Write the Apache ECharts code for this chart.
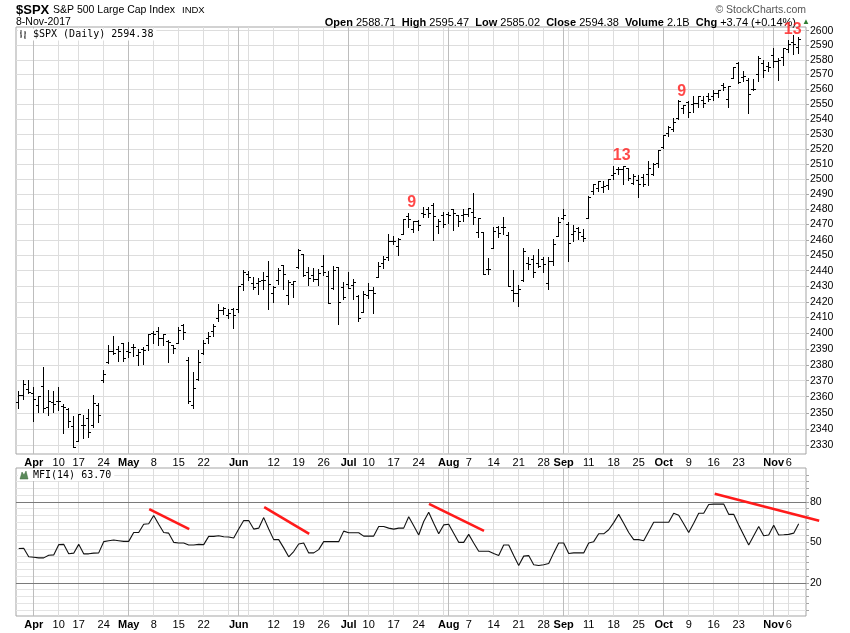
<!DOCTYPE html>
<html><head><meta charset="utf-8">
<script src="https://cdn.jsdelivr.net/npm/echarts@6/dist/echarts.min.js"></script>
<style>html,body{margin:0;padding:0;background:#fff}#c{width:850px;height:633px}</style>
</head><body><div id="c"></div>
<script>
// ---------------- DATA ----------------
const dates = [
 '3/29','3/30','3/31',
 '4/3','4/4','4/5','4/6','4/7','4/10','4/11','4/12','4/13','4/17','4/18','4/19','4/20','4/21','4/24','4/25','4/26','4/27','4/28',
 '5/1','5/2','5/3','5/4','5/5','5/8','5/9','5/10','5/11','5/12','5/15','5/16','5/17','5/18','5/19','5/22','5/23','5/24','5/25','5/26','5/30','5/31',
 '6/1','6/2','6/5','6/6','6/7','6/8','6/9','6/12','6/13','6/14','6/15','6/16','6/19','6/20','6/21','6/22','6/23','6/26','6/27','6/28','6/29','6/30',
 '7/3','7/5','7/6','7/7','7/10','7/11','7/12','7/13','7/14','7/17','7/18','7/19','7/20','7/21','7/24','7/25','7/26','7/27','7/28','7/31',
 '8/1','8/2','8/3','8/4','8/7','8/8','8/9','8/10','8/11','8/14','8/15','8/16','8/17','8/18','8/21','8/22','8/23','8/24','8/25','8/28','8/29','8/30','8/31',
 '9/1','9/5','9/6','9/7','9/8','9/11','9/12','9/13','9/14','9/15','9/18','9/19','9/20','9/21','9/22','9/25','9/26','9/27','9/28','9/29',
 '10/2','10/3','10/4','10/5','10/6','10/9','10/10','10/11','10/12','10/13','10/16','10/17','10/18','10/19','10/20','10/23','10/24','10/25','10/26','10/27','10/30','10/31',
 '11/1','11/2','11/3','11/6','11/7','11/8'
];
const open = [
 2356.54,2361.31,2364.82,
 2362.34,2354.76,2366.59,2353.79,2356.59, 2357.16,2353.92,2352.15,2341.98, 2332.62,2342.53,2346.79,2342.69,2354.74, 2370.33,2381.51,2388.98,2389.70,2393.68,
 2388.50,2391.05,2386.50,2389.79,2392.37, 2399.94,2401.58,2396.79,2394.84,2392.44, 2393.98,2405.35,2382.95,2354.69,2371.37, 2387.21,2397.04,2401.41,2409.54,2414.50, 2411.67,2415.63,
 2415.65,2431.28, 2437.83,2431.92,2432.03,2434.27,2436.39, 2425.88,2434.15,2443.75,2424.14,2431.24, 2442.55,2450.66,2439.31,2437.40,2434.65, 2443.32,2436.34,2428.70,2442.38,2429.20,
 2431.39,2430.78,2423.44,2413.52, 2424.51,2427.35,2435.75,2444.99,2449.16, 2459.50,2455.88,2463.85,2475.56,2467.40, 2472.04,2477.88,2479.97,2482.76,2469.12, 2475.94,
 2477.10,2480.38,2476.03,2476.14, 2477.14,2478.35,2465.35,2465.38,2441.04, 2454.96,2468.66,2468.63,2462.95,2427.64, 2425.50,2433.75,2444.88,2447.91,2444.72, 2447.35,2431.94,2446.06,2462.65,
 2474.42, 2470.35,2463.83,2468.06,2462.25, 2474.52,2491.94,2493.89,2494.56,2495.67, 2502.51,2506.29,2506.84,2507.16,2497.26, 2499.39,2501.04,2503.30,2503.41,2510.31,
 2521.20,2530.34,2533.48,2540.86,2547.44, 2551.39,2549.99,2550.62,2552.88,2555.66, 2555.57,2557.17,2562.87,2553.39,2567.56, 2578.08,2568.66,2566.52,2560.08,2570.26, 2577.75,2575.99,
 2583.21,2579.46,2581.93, 2587.47,2592.11,2588.71
];
const high = [
 2363.78,2370.42,2370.35,
 2365.87,2360.53,2378.36,2364.16,2363.76, 2366.37,2355.22,2352.72,2348.26, 2349.14,2348.35,2352.63,2361.37,2356.18, 2376.98,2392.48,2398.16,2392.10,2393.68,
 2394.49,2392.93,2389.82,2391.43,2399.29, 2401.36,2403.87,2399.74,2395.72,2392.44, 2404.05,2405.77,2384.87,2375.74,2389.06, 2395.46,2400.85,2405.58,2418.71,2416.68, 2415.26,2415.99,
 2430.06,2440.23, 2439.54,2436.21,2435.28,2439.27,2446.20, 2430.38,2441.49,2443.75,2433.95,2433.15, 2453.82,2450.66,2442.23,2441.62,2441.40, 2450.42,2440.15,2442.97,2442.73,2432.71,
 2439.17,2434.90,2424.28,2426.92, 2432.00,2429.30,2445.76,2449.32,2463.54, 2462.82,2460.92,2473.83,2477.62,2472.54, 2473.10,2481.24,2481.69,2484.04,2473.53, 2477.96,
 2478.51,2480.38,2476.03,2480.00, 2480.95,2490.87,2474.41,2465.38,2448.09, 2468.22,2468.90,2474.93,2465.02,2440.27, 2430.58,2454.77,2448.91,2450.39,2453.96, 2449.12,2449.19,2460.31,2475.01,
 2480.38, 2471.97,2469.64,2468.62,2467.11, 2488.95,2496.77,2498.37,2498.43,2500.23, 2508.32,2507.84,2508.85,2507.16,2503.47, 2502.54,2503.51,2511.75,2510.81,2519.44,
 2529.23,2535.13,2540.53,2552.51,2549.41, 2551.82,2555.23,2555.24,2555.33,2557.65, 2559.47,2559.71,2564.11,2562.36,2575.44, 2578.29,2572.18,2567.40,2567.07,2582.98, 2580.03,2578.29,
 2588.40,2581.11,2588.42, 2593.38,2597.02,2595.47
];
const low = [
 2352.94,2358.58,2362.60,
 2344.73,2350.72,2350.52,2348.90,2350.74, 2351.50,2337.25,2341.18,2328.95, 2332.51,2334.54,2335.05,2340.91,2344.51, 2369.19,2381.15,2386.78,2382.68,2382.36,
 2384.83,2385.82,2379.75,2380.35,2389.38, 2393.92,2392.44,2392.79,2381.74,2387.19, 2393.94,2396.05,2356.21,2352.72,2370.43, 2386.92,2393.88,2397.99,2408.01,2412.20, 2409.43,2403.59,
 2413.54,2427.71, 2434.32,2428.12,2424.75,2427.94,2415.70, 2419.97,2431.28,2428.34,2418.53,2422.88, 2441.79,2436.60,2430.74,2433.27,2431.11, 2437.03,2419.38,2428.02,2405.70,2421.65,
 2428.69,2422.05,2407.70,2413.52, 2422.27,2412.79,2435.75,2441.69,2446.69, 2457.16,2450.34,2463.85,2468.43,2465.06, 2466.32,2474.91,2474.94,2459.93,2464.66, 2468.53,
 2471.14,2466.48,2468.85,2472.08, 2475.88,2470.32,2462.08,2437.75,2437.85, 2454.96,2461.61,2463.86,2430.01,2420.69, 2417.35,2433.67,2441.42,2436.19,2442.22, 2439.03,2428.20,2443.77,2462.65,
 2473.85, 2446.55,2459.20,2460.29,2459.40, 2474.52,2490.37,2492.14,2491.35,2493.16, 2499.92,2503.19,2496.67,2499.00,2496.54, 2488.03,2495.12,2495.91,2502.93,2507.99,
 2520.40,2528.85,2531.80,2540.02,2543.79, 2541.60,2544.86,2547.95,2548.31,2552.09, 2552.64,2554.69,2559.67,2547.92,2567.56, 2564.33,2565.58,2544.00,2559.80,2565.94, 2568.25,2572.15,
 2574.92,2566.17,2576.77, 2585.66,2584.35,2585.02
];
const close = [
 2361.13,2368.06,2362.72,
 2358.84,2360.16,2352.95,2357.49,2355.54, 2357.16,2353.78,2344.93,2328.95, 2349.01,2342.19,2338.17,2355.84,2348.69, 2374.15,2388.61,2387.45,2388.77,2384.20,
 2388.33,2391.17,2388.13,2389.52,2399.29, 2399.38,2396.92,2399.63,2394.44,2390.90, 2402.32,2400.67,2357.03,2365.72,2381.73, 2394.02,2398.42,2404.39,2415.07,2415.82, 2412.91,2411.80,
 2430.06,2439.07, 2436.10,2429.33,2433.14,2433.79,2431.77, 2429.39,2440.35,2437.92,2432.46,2433.15, 2453.46,2437.03,2435.61,2434.50,2438.30, 2439.07,2419.38,2440.69,2419.70,2423.41,
 2429.01,2432.54,2409.75,2425.18, 2427.43,2425.53,2443.25,2447.83,2459.27, 2459.14,2460.61,2473.83,2473.45,2472.54, 2469.91,2477.13,2477.83,2475.42,2472.10, 2470.30,
 2476.35,2477.57,2472.16,2476.83, 2480.91,2474.92,2474.02,2438.21,2441.32, 2465.84,2464.61,2468.11,2430.01,2425.55, 2428.37,2452.51,2444.04,2438.97,2443.05, 2444.24,2446.30,2457.59,2471.65,
 2476.55, 2457.85,2465.54,2465.10,2461.43, 2488.11,2496.48,2498.37,2495.62,2500.23, 2503.87,2506.65,2508.24,2500.60,2502.22, 2496.66,2496.84,2507.04,2510.06,2519.36,
 2529.12,2534.58,2537.74,2552.07,2549.33, 2544.73,2550.64,2555.24,2550.93,2553.17, 2557.64,2559.36,2561.26,2562.10,2575.21, 2564.98,2569.13,2557.15,2560.40,2581.07, 2572.83,2575.26,
 2579.36,2579.85,2587.84, 2591.13,2590.64,2594.38
];
const mfi = [
 45.4,45.6,39.3,
 39.0,38.5,38.5,40.5,40.7, 48.3,48.5,41.5,42.0, 48.5,41.5,41.5,42.0,42.2, 50.5,51.2,51.7,51.2,50.7,
 50.7,57.3,57.3,63.4,63.7, 69.8,63.4,57.3,56.8,50.0, 49.5,49.5,48.0,48.0,48.5, 48.3,54.4,54.4,54.9,54.1, 53.9,53.2,
 59.8,66.1, 66.1,59.8,60.5,68.3,59.8, 52.0,52.0,45.9,39.3,43.2, 48.8,49.5,42.2,42.2,44.6, 50.5,50.5,50.5,50.5,58.3,
 57.1,57.1,57.1,54.6, 54.6,54.6,61.7,61.7,60.5, 59.8,60.5,60.5,69.0,62.2, 55.4,65.4,72.2,64.1,56.3, 62.9,
 63.4,56.8,50.0,50.0, 55.9,49.5,43.4,43.4,43.4, 41.7,40.2,48.0,48.0,40.2, 32.9,39.8,40.2,33.4,32.9, 33.4,34.4,42.2,49.5,
 49.5, 41.7,42.2,42.2,42.2, 49.5,50.5,56.3,56.3,59.3, 64.6,70.7,64.1,57.3,52.0, 52.0,51.2,58.0,64.9,64.9,
 64.9,64.9,71.5,70.0,63.7, 57.3,64.1,71.5,71.5,78.0, 78.3,78.3,78.3,70.7,70.7, 62.9,55.4,48.0,54.9,61.7, 54.9,55.4,
 62.7,55.4,55.6, 55.9,56.8,63.7
];
const priceTicks = [2330,2340,2350,2360,2370,2380,2390,2400,2410,2420,2430,2440,2450,2460,2470,2480,2490,2500,2510,2520,2530,2540,2550,2560,2570,2580,2590,2600];
const mfiLabelTicks = [20,50,80];
const mfiGridTicks = [0,5,10,15,20,25,30,35,40,45,50,55,60,65,70,75,80,85,90,95,100];
const mfiLevels = [20,80];
const weekStartIdx = [3,8,12,17,22,27,32,37,42,46,51,56,61,66,70,75,80,85,90,95,100,105,110,114,119,124,129,134,139,144,149,154];
const monthStartIdx = [3,22,44,66,86,109,129,151];
const xLabelIdx = [3,8,12,17,22,27,32,37,44,51,56,61,66,70,75,80,86,90,95,100,105,109,114,119,124,129,134,139,144,151,154];
const monthNames = ['Jan','Feb','Mar','Apr','May','Jun','Jul','Aug','Sep','Oct','Nov','Dec'];
const tdCounts = [{i:78,text:'9'},{i:121,text:'13'},{i:132,text:'9'},{i:155,text:'13'}];
const mfiTrendLines = [
 [[26.1,74.6],[34.1,59.8]],
 [[49.1,76.1],[58.1,56.3]],
 [[82.06,78.5],[93.06,58.5]],
 [[139.2,85.9],[160.1,65.9]]
];
const headerQuote = {open:'2588.71', high:'2595.47', low:'2585.02', close:'2594.38', volume:'2.1B', chg:'+3.74 (+0.14%)'};

// ---------------- CHART ----------------
const XMIN = -0.54, XMAX = 157.46;
const FONT = '"Liberation Sans", Arial, sans-serif';
const MONO = '"DejaVu Sans Mono", monospace';
const ohlc = dates.map((d,i)=>[i, Math.log(open[i]), Math.log(high[i]), Math.log(low[i]), Math.log(close[i])]);
const mfiData = mfi.map((v,i)=>[i,v]);
function xLabel(v){
  const i = Math.round(v);
  const [m,d] = dates[i].split('/').map(Number);
  return monthStartIdx.indexOf(i) >= 0 ? '{m|'+monthNames[m-1]+'}' : String(d);
}
function xAxesFor(g){
  return [
    {type:'value', gridIndex:g, min:XMIN, max:XMAX, position:'bottom',
     axisLine:{show:false, onZero:false}, axisTick:{show:false, customValues:weekStartIdx},
     splitLine:{show:true, lineStyle:{color:'#dddddd', width:1}},
     axisLabel:{show:true, customValues:xLabelIdx, formatter:xLabel, margin:3, color:'#000',
       fontSize:11, fontFamily:FONT,
       rich:{m:{fontWeight:'bold', fontSize:11, fontFamily:FONT, color:'#000'}}}},
    {type:'value', gridIndex:g, min:XMIN, max:XMAX, position:'top',
     axisLine:{show:false, onZero:false}, axisTick:{show:false, customValues:monthStartIdx},
     axisLabel:{show:false},
     splitLine:{show:true, lineStyle:{color:'#bdbdbd', width:1}}}
  ];
}
const tdOffsets = [[3,-10],[-2,-10],[3,-9],[-1,-5]];

const chart = echarts.init(document.getElementById('c'), null, {renderer:'canvas'});
chart.setOption({
  animation:false,
  backgroundColor:'#fff',
  grid:[
    {left:16, right:44, top:27, height:427, show:true, borderColor:'#a5a5a5', borderWidth:1, backgroundColor:'#fff'},
    {left:16, right:44, top:468, height:148, show:true, borderColor:'#a5a5a5', borderWidth:1, backgroundColor:'#fff'}
  ],
  xAxis:[...xAxesFor(0), ...xAxesFor(1)],
  yAxis:[
    {type:'value', gridIndex:0, position:'right', min:Math.log(2324.5), max:Math.log(2602.55),
     axisLine:{show:false, onZero:false},
     axisTick:{show:true, inside:false, customValues:priceTicks.map(Math.log), length:3, lineStyle:{color:'#a5a5a5'}},
     axisLabel:{customValues:priceTicks.map(Math.log), formatter:v=>String(Math.round(Math.exp(v))),
       margin:4, fontSize:10.5, color:'#000', fontFamily:FONT},
     splitLine:{show:true, lineStyle:{color:'#dddddd'}}},
    {type:'value', gridIndex:1, position:'right', min:-4.5, max:105,
     axisLine:{show:false, onZero:false},
     axisTick:{show:true, inside:false, customValues:mfiGridTicks, length:3, lineStyle:{color:'#a5a5a5'}},
     axisLabel:{customValues:mfiLabelTicks, margin:4, fontSize:10.5, color:'#000', fontFamily:FONT},
     splitLine:{show:true, lineStyle:{color:'#e4e4e4'}}}
  ],
  series:[
    {type:'custom', xAxisIndex:0, yAxisIndex:0, data:ohlc, clip:true,
     renderItem:(params, api)=>{
       const x = api.value(0);
       const pO = api.coord([x, api.value(1)]);
       const pH = api.coord([x, api.value(2)]);
       const pL = api.coord([x, api.value(3)]);
       const pC = api.coord([x, api.value(4)]);
       const cx = Math.round(pH[0]) - 0.5;
       const yo = Math.round(pO[1]) + 0.5, yc = Math.round(pC[1]) + 0.5;
       const st = {stroke:'#000', lineWidth:1};
       return {type:'group', children:[
         {type:'line', shape:{x1:cx, y1:Math.round(pH[1]), x2:cx, y2:Math.round(pL[1])+1}, style:st},
         {type:'line', shape:{x1:cx-2.5, y1:yo, x2:cx, y2:yo}, style:st},
         {type:'line', shape:{x1:cx, y1:yc, x2:cx+2.5, y2:yc}, style:st}
       ]};
     }},
    {type:'scatter', xAxisIndex:0, yAxisIndex:0, symbolSize:0, z:5,
     data:tdCounts.map((t,k)=>({value:[t.i, Math.log(high[t.i])], name:t.text,
       label:{offset:tdOffsets[k]}})),
     label:{show:true, position:'inside', formatter:p=>p.name, color:'#ff1a1a',
       fontSize:16, fontWeight:'bold', fontFamily:FONT}},
    {type:'line', xAxisIndex:2, yAxisIndex:1, data:mfiData, symbol:'none',
     lineStyle:{color:'#111', width:1.1},
     markLine:{silent:true, symbol:'none', label:{show:false},
       lineStyle:{color:'#7a7a7a', type:'solid', width:1},
       data:mfiLevels.map(v=>({yAxis:v}))}}
  ]
});
// Red MFI trend lines, positioned through the MFI panel's own axes (the last one runs past the plot edge)
const trendGraphics = mfiTrendLines.map(seg=>{
  const a = chart.convertToPixel({xAxisIndex:2, yAxisIndex:1}, seg[0]);
  const b = chart.convertToPixel({xAxisIndex:2, yAxisIndex:1}, seg[1]);
  return {type:'line', z:20, shape:{x1:a[0], y1:a[1], x2:b[0], y2:b[1]}, style:{stroke:'#ff1a1a', lineWidth:2.6, lineCap:'butt'}};
});
chart.setOption({graphic:[
    {type:'text', x:16, y:10, style:{text:'$SPX', font:'bold 13px '+FONT, fill:'#000', textVerticalAlign:'middle'}},
    {type:'text', x:53, y:10.5, style:{text:'S&P 500 Large Cap Index', font:'10.5px '+FONT, fill:'#000', textVerticalAlign:'middle'}},
    {type:'text', x:182, y:10.5, style:{text:'INDX', font:'9.5px '+FONT, fill:'#000', textVerticalAlign:'middle'}},
    {type:'text', x:16, y:22.5, style:{text:'8-Nov-2017', font:'10.5px '+FONT, fill:'#000', textVerticalAlign:'middle'}},
    {type:'text', x:806, y:10, style:{text:'\u00A9 StockCharts.com', font:'10.5px '+FONT, fill:'#555', textAlign:'right', textVerticalAlign:'middle'}},
    {type:'text', x:796, y:22.5, style:{
      text:'{b|Open} '+headerQuote.open+'  {b|High} '+headerQuote.high+'  {b|Low} '+headerQuote.low+'  {b|Close} '+headerQuote.close+'  {b|Volume} '+headerQuote.volume+'  {b|Chg} '+headerQuote.chg,
      font:'11px '+FONT, fill:'#000', textAlign:'right', textVerticalAlign:'middle',
      rich:{b:{font:'bold 11px '+FONT, fill:'#000'}}}},
    {type:'text', x:802, y:22, style:{text:'\u25B2', font:'8px '+FONT, fill:'#2e7d32', textVerticalAlign:'middle'}},
    {type:'text', x:31, y:34.5, z:10, style:{text:'$SPX (Daily) '+close[close.length-1].toFixed(2), font:'10px '+MONO, fill:'#000', textVerticalAlign:'middle', backgroundColor:'#fff', padding:[1,3,1,2]}},
    {type:'group', z:10, children:[
      {type:'rect', shape:{x:18, y:29, width:13, height:11}, style:{fill:'#fff'}},
      {type:'polyline', shape:{points:[[21,30],[21,38]]}, style:{stroke:'#333', lineWidth:1}},
      {type:'polyline', shape:{points:[[20,33],[21,33]]}, style:{stroke:'#333', lineWidth:1}},
      {type:'polyline', shape:{points:[[21,36],[22,36]]}, style:{stroke:'#333', lineWidth:1}},
      {type:'polyline', shape:{points:[[25,31],[25,39]]}, style:{stroke:'#333', lineWidth:1}},
      {type:'polyline', shape:{points:[[24,37],[25,37]]}, style:{stroke:'#333', lineWidth:1}},
      {type:'polyline', shape:{points:[[25,33],[26,33]]}, style:{stroke:'#333', lineWidth:1}}
    ]},
    {type:'text', x:31, y:475, z:10, style:{text:'MFI(14) '+mfi[mfi.length-1].toFixed(2), font:'10px '+MONO, fill:'#000', textVerticalAlign:'middle', backgroundColor:'#fff', padding:[1,3,1,2]}},
    {type:'group', z:10, children:[
      {type:'rect', shape:{x:18, y:469, width:13, height:11}, style:{fill:'#fff'}},
      {type:'polygon', shape:{points:[[20,479],[22,472],[24,475],[26,471],[28,479]]}, style:{fill:'#5b8a5b', stroke:'#3d6b3d', lineWidth:0.5}}
    ]},
    {type:'group', z:20, children:trendGraphics}
]});
</script>
</body></html>
